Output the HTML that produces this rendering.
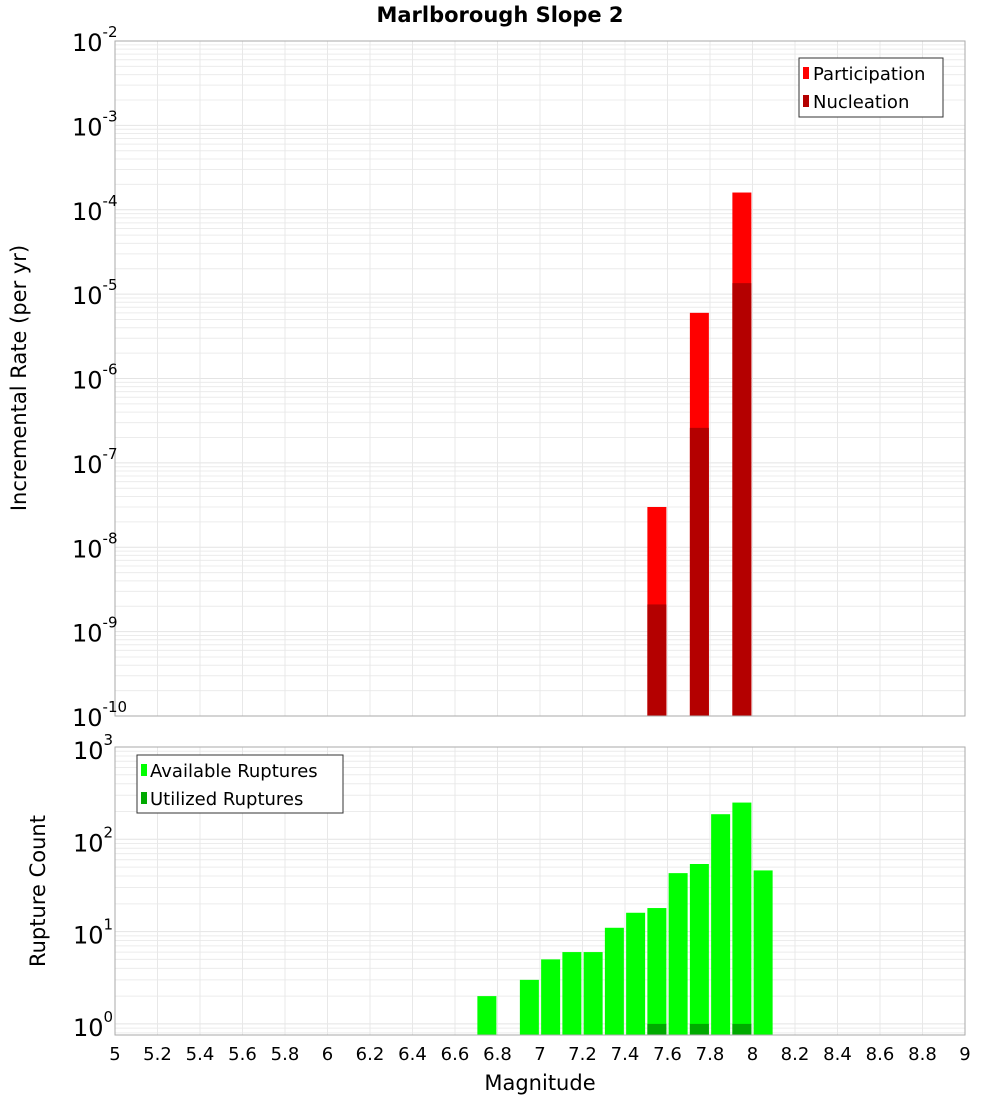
<!DOCTYPE html>
<html><head><meta charset="utf-8"><style>
body{margin:0;background:#fff;font-family:"Liberation Sans","DejaVu Sans",sans-serif}
svg text{font-family:"DejaVu Sans","Liberation Sans",sans-serif}
</style></head><body>
<svg id="c" width="1000" height="1100" xmlns="http://www.w3.org/2000/svg">
<rect width="1000" height="1100" fill="#fff"/>
<text x="500" y="22" text-anchor="middle" font-size="21" font-weight="bold">Marlborough Slope 2</text>
<g id="gTop"></g><g id="gBot"></g><g id="xt"></g>
<text x="540" y="1090" text-anchor="middle" font-size="21">Magnitude</text>
<text transform="translate(26,378) rotate(-90)" text-anchor="middle" font-size="21">Incremental Rate (per yr)</text>
<text transform="translate(45,891) rotate(-90)" text-anchor="middle" font-size="21">Rupture Count</text>
</svg>
<script>
const rateMags=[7.55,7.75,7.95];
const participation=[3e-8,6e-6,1.6e-4];
const nucleation=[2.1e-9,2.6e-7,1.35e-5];
const countMags=[6.75,6.95,7.05,7.15,7.25,7.35,7.45,7.55,7.65,7.75,7.85,7.95,8.05];
const available=[2,3,5,6,6,11,16,18,43,54,187,250,46];
const utilizedMags=[7.55,7.75,7.95];
const utilized=[1,1,1];
const xTicks=[5,5.2,5.4,5.6,5.8,6,6.2,6.4,6.6,6.8,7,7.2,7.4,7.6,7.8,8,8.2,8.4,8.6,8.8,9];

const NS='http://www.w3.org/2000/svg';
const X0=115,X1=965;
const xs=m=>X0+(m-5)/4*(X1-X0);
const yT=v=>41+(-2-Math.log10(v))*84.375;
const yB=v=>747+(3-Math.log10(v))*92.3;
function mk(p,t,a){const e=document.createElementNS(NS,t);for(const k in a)e.setAttribute(k,a[k]);p.appendChild(e);return e;}
const gTopEl=document.getElementById('gTop'),gBotEl=document.getElementById('gBot'),xtEl=document.getElementById('xt');
function grid(g,yf,d0,d1,yTop,yBot){
 for(let d=d0;d<d1;d++)for(let k=1;k<10;k++){const yy=yf(k*Math.pow(10,d));if(yy<yTop||yy>yBot)continue;
  const l=mk(g,'line',{x1:X0,x2:X1,y1:yy,y2:yy,stroke:k==1?'#e4e4e4':'#ececec','stroke-width':1});
  }
 xTicks.forEach(t=>{const l=mk(g,'line',{x1:xs(t),x2:xs(t),y1:yTop,y2:yBot,stroke:'#e8e8e8'});
  });
}
function sup(g,xx,yy,d){
 const t=mk(g,'text',{x:xx,y:yy,'font-size':24});
 
 t.appendChild(document.createTextNode('10'));
 const s=mk(t,'tspan',{dy:-14,'font-size':15});s.textContent=String(d);
}
grid(gTopEl,yT,-10,-2,41,716);
const bw=19*4/(X1-X0);
rateMags.forEach((m,i)=>{
 const r=mk(gTopEl,'rect',{x:xs(m-bw/2),width:xs(m+bw/2)-xs(m-bw/2),y:yT(participation[i]),height:716-yT(participation[i]),fill:'#ff0000'});
 
 const n=mk(gTopEl,'rect',{x:xs(m-bw/2),width:xs(m+bw/2)-xs(m-bw/2),y:yT(nucleation[i]),height:716-yT(nucleation[i]),fill:'#b40000'});
 
});
let f=mk(gTopEl,'rect',{x:X0,y:41,width:X1-X0,height:675,fill:'none',stroke:'#aaa'});

for(let d=-10;d<=-2;d++)sup(gTopEl,72,yT(Math.pow(10,d))+10,d);
let lg=mk(gTopEl,'g',{});
mk(lg,'rect',{x:799,y:58,width:144,height:59,fill:'#fff',stroke:'#333'});
mk(lg,'rect',{x:803,y:67,width:6,height:12,fill:'#ff0000'});
mk(lg,'rect',{x:803,y:95,width:6,height:12,fill:'#b40000'});
let t1=mk(lg,'text',{x:813,y:80,'font-size':18});t1.textContent='Participation';
let t2=mk(lg,'text',{x:813,y:108,'font-size':18});t2.textContent='Nucleation';
grid(gBotEl,yB,-1,3,747,1035);
countMags.forEach((m,i)=>{
 const r=mk(gBotEl,'rect',{x:xs(m-bw/2),width:xs(m+bw/2)-xs(m-bw/2),y:yB(available[i]),height:1035-yB(available[i]),fill:'#00ff00'});
 
});
utilizedMags.forEach((m,i)=>{
 const r=mk(gBotEl,'rect',{x:xs(m-bw/2),width:xs(m+bw/2)-xs(m-bw/2),y:yB(utilized[i]),height:1035-yB(utilized[i]),fill:'#00aa00'});
 
});
f=mk(gBotEl,'rect',{x:X0,y:747,width:X1-X0,height:288,fill:'none',stroke:'#aaa'});

for(let d=0;d<=3;d++)sup(gBotEl,73,yB(Math.pow(10,d))+12,d);
lg=mk(gBotEl,'g',{});
mk(lg,'rect',{x:137,y:755,width:206,height:58,fill:'#fff',stroke:'#333'});
mk(lg,'rect',{x:141,y:764,width:6,height:12,fill:'#00ff00'});
mk(lg,'rect',{x:141,y:792,width:6,height:12,fill:'#00aa00'});
t1=mk(lg,'text',{x:150,y:777,'font-size':18});t1.textContent='Available Ruptures';
t2=mk(lg,'text',{x:150,y:805,'font-size':18});t2.textContent='Utilized Ruptures';
xTicks.forEach(v=>{const t=mk(xtEl,'text',{x:xs(v),y:1060,'text-anchor':'middle','font-size':18});
 
 t.textContent=String(v);});
</script>
</body></html>
